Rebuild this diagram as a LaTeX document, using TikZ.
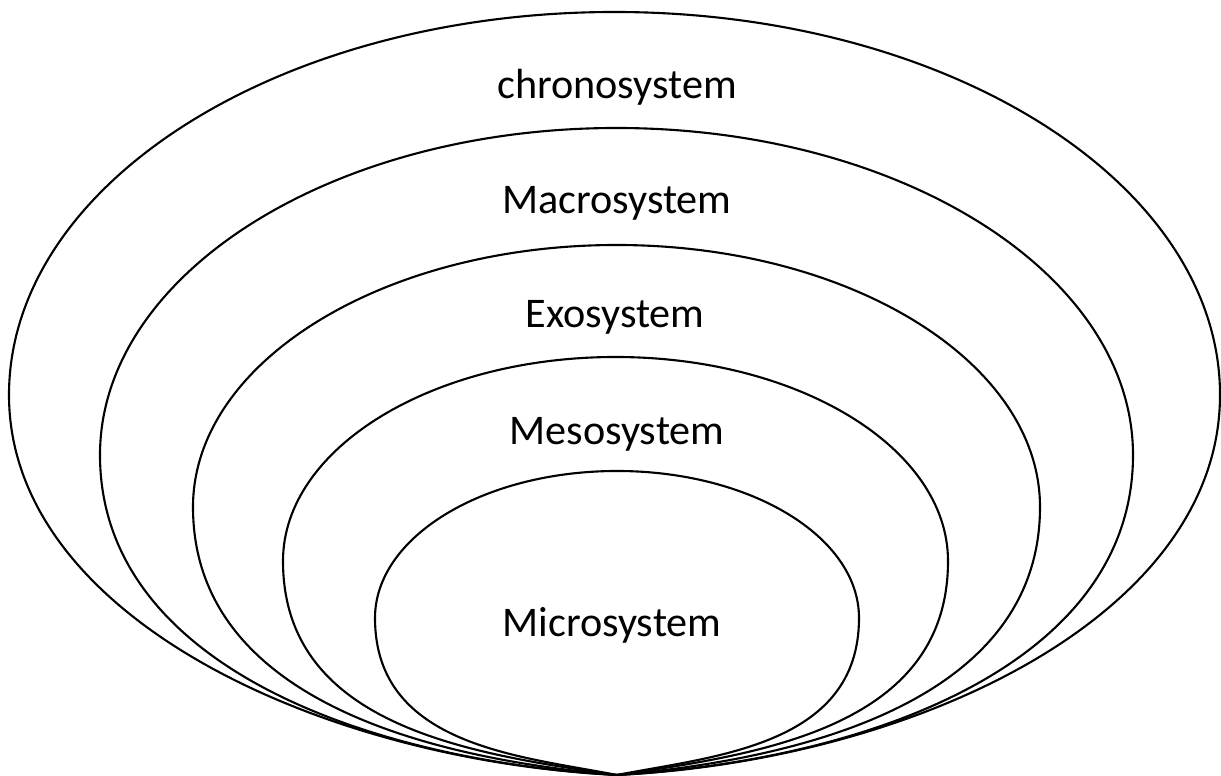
\documentclass[tikz,border=0pt]{standalone}
\usepackage{fontspec}
\setmainfont{Carlito}
\begin{document}
\begin{tikzpicture}[x=0.01cm,y=0.01cm,line width=0.6pt,
    layer/.style={draw=black},
    tag/.style={font=\fontsize{12}{14}\selectfont,inner sep=0pt}]

        \useasboundingbox (0,0) rectangle (1221,776);

        % Bottom point where all layers meet
        \coordinate (tip) at (617,1);

        % Chronosystem
        \draw[layer] (tip) .. controls (317,16) and (9,161) .. (9,381)
            arc[start angle=180,end angle=0,x radius=605.5,y radius=383]
            .. controls (1220,161) and (917,16) .. (tip);
        \node[tag] (chrono) at (617,689) {chronosystem};

        % Macrosystem
        \draw[layer] (tip) .. controls (370,15) and (100,110) .. (100,321)
            arc[start angle=180,end angle=0,x radius=516.5,y radius=327]
            .. controls (1133,110) and (864,15) .. (tip);
        \node[tag] (macro) at (617,573) {Macrosystem};

        % Exosystem
        \draw[layer] (tip) .. controls (420,18) and (193,80) .. (193,269)
            arc[start angle=180,end angle=0,x radius=423.5,y radius=262]
            .. controls (1040,80) and (814,18) .. (tip);
        \node[tag] (exo) at (615,459) {Exosystem};

        % Mesosystem
        \draw[layer] (tip) .. controls (470,22) and (283,50) .. (283,215)
            arc[start angle=180,end angle=0,x radius=332.5,y radius=204]
            .. controls (948,50) and (764,22) .. (tip);
        \node[tag] (meso) at (617,342) {Mesosystem};

        % Microsystem
        \draw[layer] (tip) .. controls (520,20) and (375,30) .. (375,158)
            arc[start angle=180,end angle=0,x radius=242,y radius=147]
            .. controls (859,30) and (714,20) .. (tip);
        \node[tag] (micro) at (612,151) {Microsystem};

    \end{tikzpicture}
\end{document}
